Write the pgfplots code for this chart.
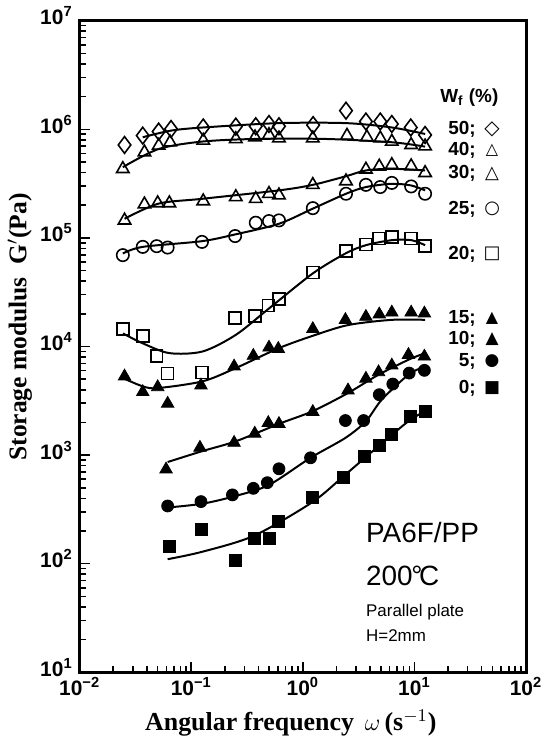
\documentclass[border=0pt]{standalone}
\usepackage{fontspec}
\setmainfont{Liberation Sans}
\newfontfamily\lserif{Liberation Serif}
\newfontfamily\dejavu{DejaVu Sans}
\usepackage{pgfplots}
\pgfplotsset{compat=1.18}

\newcommand{\dec}[1]{\textbf{10}\textsuperscript{\textbf{#1}}}
\newcommand{\leg}[4]{% rel y, number, symbol, symbol size
  \node[anchor=east, font=\fontsize{9.5}{11}\selectfont\bfseries, inner sep=0pt] at (rel axis cs:0.888,#1) {#2;};
  \node[anchor=center, font=\fontsize{#4}{11}\selectfont\dejavu, inner sep=0pt] at (rel axis cs:0.924,#1) {#3};
}

\begin{document}
\begin{tikzpicture}
\begin{axis}[
  xmode=log, ymode=log,
  scale only axis, width=224pt, height=327pt,
  xmin=1e-2, xmax=1e2, ymin=1e1, ymax=1e7,
  clip=false,
  axis line style={line width=1.5pt},
  tick align=inside, xtick pos=bottom, ytick pos=left,
  major tick length=5pt, minor tick length=3pt,
  every tick/.style={black, line width=0.8pt},
  xtick={1e-2,1e-1,1,1e1,1e2},
  xticklabels={\dec{−2},\dec{−1},\dec{0},\dec{1},\dec{2}},
  ytick={1e1,1e2,1e3,1e4,1e5,1e6,1e7},
  yticklabels={\dec{1},\dec{2},\dec{3},\dec{4},\dec{5},\dec{6},\dec{7}},
  xticklabel style={font=\fontsize{10.5}{12}\selectfont, yshift=1pt},
  yticklabel style={font=\fontsize{10.5}{12}\selectfont, yshift=2.5pt},
  xlabel={Angular frequency \,$\omega$\,(s$^{-1}$)},
  ylabel={Storage modulus \ G$'$(Pa)},
  every axis x label/.style={at={(rel axis cs:0.473,0)}, yshift=-25.5pt, anchor=center},
  every axis y label/.style={at={(rel axis cs:0,0.53)}, xshift=-30pt, rotate=90, anchor=center},
  xlabel style={font=\fontsize{13}{15}\selectfont\lserif\bfseries},
  ylabel style={font=\fontsize{12.8}{15}\selectfont\lserif\bfseries},
]
\path (rel axis cs:0,0) ++(-40pt,-35.5pt) rectangle ++(271pt,371.5pt);

% fitted curves
\addplot[black, line width=1pt, smooth] coordinates {
 (0.0367,8.45e5) (0.0659,9.73e5) (0.128,1.04e6) (0.61,1.14e6) (2.44,1.14e6) (6.27,1.04e6) (12.46,9.06e5)};
\addplot[black, line width=1pt, smooth] coordinates {
 (0.02435,4.48e5) (0.05105,6.59e5) (0.1246,7.71e5) (0.378,8.15e5) (1.6,8.15e5) (6.27,7.6e5) (12.46,6.93e5)};
\addplot[black, line width=1pt, smooth] coordinates {
 (0.02523,1.5e5) (0.05105,2.07e5) (0.1246,2.29e5) (0.6107,2.74e5) (1.228,3.08e5) (2.44,3.7e5) (3.674,4.18e5) (6.27,4.33e5) (12.46,4.18e5)};
\addplot[black, line width=1pt, smooth] coordinates {
 (0.02435,7.18e4) (0.03674,8.27e4) (0.1246,9.33e4) (0.2507,1.08e5) (0.6107,1.35e5) (1.228,1.86e5) (2.436,2.55e5) (3.674,2.94e5) (6.27,3.15e5) (9.344,3.04e5) (12.46,2.74e5)};
\addplot[black, line width=1pt, smooth] coordinates {
 (0.0244,1.32e4) (0.0367,1.07e4) (0.0636,8.69e3) (0.1264,9.0e3) (0.2507,1.28e4) (0.497,2.24e4) (1.228,4.71e4) (2.406,7.18e4) (3.674,8.57e4) (6.27,9.53e4) (9.4,9.53e4) (12.46,8.57e4)};
\addplot[black, line width=1pt, smooth] coordinates {
 (0.0244,5.12e3) (0.0367,4.3e3) (0.05,4.14e3) (0.1264,4.78e3) (0.2507,6.33e3) (0.61,9.66e3) (1.3,1.28e4) (2.58,1.58e4) (6.27,1.76e4) (12.46,1.76e4)};
\addplot[black, line width=1pt, smooth] coordinates {
 (0.06141,863) (0.1264,1.09e3) (0.2507,1.34e3) (0.6107,1.94e3) (1.228,2.54e3) (2.539,3.73e3) (4.77,5.5e3) (8.84,7.55e3) (12.46,8.69e3)};
\addplot[black, line width=1pt, smooth] coordinates {
 (0.06141,329) (0.1264,357) (0.2507,421) (0.497,531) (1.172,944) (2.406,1.44e3) (3.674,2.05e3) (5.1,3.24e3) (8.84,5.5e3) (12.46,6.56e3)};
\addplot[black, line width=1pt, smooth] coordinates {
 (0.06141,110) (0.1264,129) (0.3652,181) (1.203,366) (2.323,641) (4.77,1.21e3) (8.84,2.05e3) (12.46,2.54e3)};

% data points
% 50 %
\addplot[only marks, mark=diamond, mark size=4.2pt, mark options={black, fill=white, line width=0.8pt}] coordinates {
 (0.02523,7.18e5) (0.03674,8.75e5) (0.05105,9.53e5) (0.06588,1.007e6) (0.128,1.04e6) (0.2507,1.06e6) (0.3783,1.067e6) (0.4971,1.12e6) (0.6107,1.067e6) (1.236,1.094e6) (2.436,1.485e6) (3.674,1.18e6) (4.94,1.18e6) (6.27,1.12e6) (9.268,1.04e6) (12.46,8.87e5)};
% 40 %
\addplot[only marks, mark=triangle, mark size=3.6pt, mark options={black, fill=white, line width=0.8pt}] coordinates {
 (0.02435,4.32e5) (0.03805,6.15e5) (0.05105,7.08e5) (0.06453,7.6e5) (0.128,7.88e5) (0.2507,8.15e5) (0.3728,8.45e5) (0.4971,8.87e5) (0.6107,8.27e5) (1.228,8.27e5) (2.487,8.75e5) (3.75,8.45e5) (4.94,8.27e5) (6.27,7.71e5) (9.344,7.18e5) (12.46,6.98e5)};
% 30 %
\addplot[only marks, mark=triangle, mark size=3.6pt, mark options={black, fill=white, line width=0.8pt}] coordinates {
 (0.02523,1.45e5) (0.03805,2.04e5) (0.05,2.09e5) (0.06361,2.09e5) (0.128,2.18e5) (0.2507,2.38e5) (0.3783,2.29e5) (0.4971,2.55e5) (0.6107,2.47e5) (1.228,3.08e5) (2.436,3.33e5) (3.674,4.27e5) (4.839,4.55e5) (6.27,4.7e5) (9.344,4.58e5) (12.46,3.97e5)};
% 25 %
\addplot[only marks, mark=o, mark size=3.1pt, mark options={black, fill=white, line width=0.8pt}] coordinates {
 (0.02435,6.94e4) (0.03674,8.27e4) (0.04898,8.39e4) (0.06141,8.15e4) (0.1246,9.19e4) (0.2471,1.04e5) (0.3783,1.38e5) (0.4971,1.43e5) (0.6107,1.45e5) (1.228,1.88e5) (2.436,2.55e5) (3.674,3.08e5) (4.94,2.94e5) (6.27,3.21e5) (9.344,2.98e5) (12.46,2.55e5)};
% 20 %
\addplot[only marks, mark=square, mark size=3pt, mark options={black, fill=white, line width=0.8pt}] coordinates {
 (0.02435,1.45e4) (0.03674,1.25e4) (0.04898,8.22e3) (0.06141,5.62e3) (0.1246,5.77e3) (0.2471,1.82e4) (0.3728,1.92e4) (0.49,2.38e4) (0.6107,2.74e4) (1.228,4.81e4) (2.436,7.55e4) (3.674,8.69e4) (4.839,9.86e4) (6.27,1.02e5) (9.344,9.86e4) (12.46,8.45e4)};
% 15 %
\addplot[only marks, mark=triangle*, mark size=3.6pt, mark options={black}] coordinates {
 (0.02523,5.31e3) (0.03674,3.81e3) (0.05,4.23e3) (0.06141,2.98e3) (0.1221,4.39e3) (0.242,6.56e3) (0.36,8.22e3) (0.4971,9.79e3) (0.602,9.53e3) (1.228,1.45e4) (2.406,1.76e4) (3.674,1.88e4) (4.839,1.98e4) (6.27,2.06e4) (9.344,2.06e4) (12.28,2.02e4)};
% 10 %
\addplot[only marks, mark=triangle*, mark size=3.6pt, mark options={black}] coordinates {
 (0.05943,739) (0.1196,1.17e3) (0.242,1.3e3) (0.3706,1.58e3) (0.49,1.98e3) (0.6107,1.94e3) (1.228,2.5e3) (2.539,3.95e3) (3.674,5.06e3) (4.77,5.81e3) (6.27,6.7e3) (8.841,8.39e3) (12.28,8.09e3)};
% 5 %
\addplot[only marks, mark=*, mark size=3pt, mark options={black}] coordinates {
 (0.06141,340) (0.1221,373) (0.2338,430) (0.36,494) (0.4801,557) (0.6107,748) (1.172,944) (2.406,2.08e3) (3.504,2.08e3) (4.839,3.6e3) (6.401,4.51e3) (8.97,5.69e3) (12.28,6.03e3)};
% 0 %
\addplot[only marks, mark=square*, mark size=3pt, mark options={black}] coordinates {
 (0.06361,143) (0.1221,208) (0.2507,108) (0.3652,172) (0.5043,172) (0.602,244) (1.228,406) (2.323,628) (3.577,979) (4.839,1.24e3) (6.194,1.55e3) (9.155,2.28e3) (12.46,2.5e3)};

% legend
\node[font=\fontsize{9.5}{11}\selectfont\bfseries, inner sep=0pt] at (rel axis cs:0.873,0.882) {W\textsubscript{f} (\%)};
\leg{0.834}{50}{◇}{10}
\leg{0.801}{40}{△}{8}
\leg{0.765}{30}{△}{9}
\leg{0.711}{25}{○}{9}
\leg{0.642}{20}{□}{9}
\leg{0.543}{15}{▲}{8}
\leg{0.511}{10}{▲}{8.5}
\leg{0.477}{5}{●}{8.5}
\leg{0.436}{0}{■}{8.5}

% annotations
\node[anchor=west, font=\fontsize{14}{16}\selectfont, inner sep=0pt] at (rel axis cs:0.641,0.214) {PA6F/PP};
\node[anchor=west, font=\fontsize{14}{16}\selectfont, inner sep=0pt] at (rel axis cs:0.641,0.148) {200\kern-0.05em°\kern-0.12em C};
\node[anchor=west, font=\fontsize{8.5}{10}\selectfont, inner sep=0pt] at (rel axis cs:0.641,0.092) {Parallel plate};
\node[anchor=west, font=\fontsize{8.5}{10}\selectfont, inner sep=0pt] at (rel axis cs:0.641,0.057) {H=2mm};
\end{axis}
\end{tikzpicture}
\end{document}
